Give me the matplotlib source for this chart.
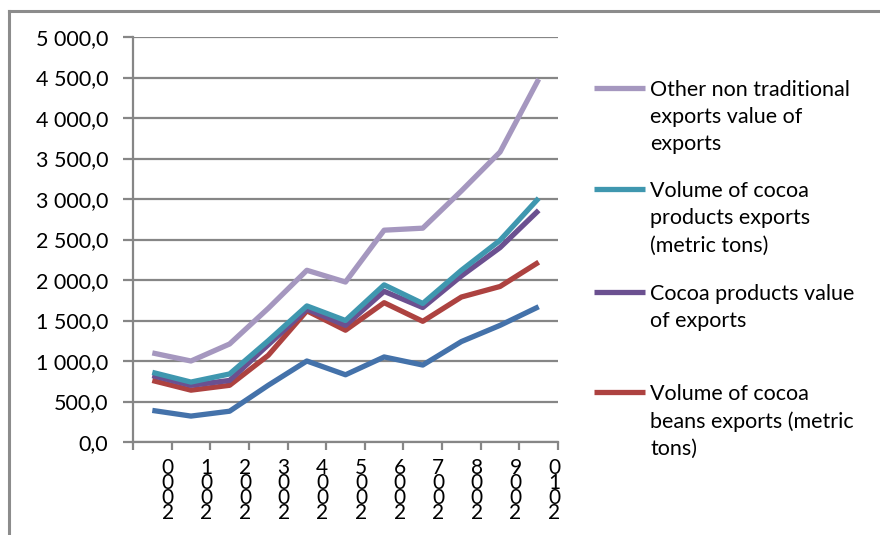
import numpy as np
import matplotlib
matplotlib.use("Agg")
import matplotlib.pyplot as plt
from matplotlib.lines import Line2D
from matplotlib.ticker import FuncFormatter

plt.rcParams['font.family'] = ['Lato', 'DejaVu Sans']

years = ['2000', '2001', '2002', '2003', '2004', '2005',
         '2006', '2007', '2008', '2009', '2010']

other_nontrad = [1100, 1000, 1210, 1650, 2120, 1975, 2615, 2640, 3100, 3580, 4480]
vol_products = [860, 740, 840, 1250, 1680, 1500, 1940, 1710, 2120, 2490, 3010]
val_products = [820, 700, 760, 1200, 1640, 1440, 1860, 1660, 2050, 2400, 2860]
vol_beans = [760, 640, 700, 1070, 1620, 1380, 1720, 1490, 1790, 1920, 2220]
val_beans = [390, 320, 380, 700, 1000, 830, 1050, 950, 1240, 1440, 1670]

labels = ['Other non traditional\nexports value of\nexports',
          'Volume of cocoa\nproducts exports\n(metric tons)',
          'Cocoa products value\nof exports',
          'Volume of cocoa\nbeans exports (metric\ntons)']

c_blue = '#4472aa'
c_red = '#ad4240'
c_purple = '#6b5090'
c_teal = '#3f97af'
c_lav = '#a597bf'
grid_c = '#868686'

W, H = 880, 535
fig = plt.figure(figsize=(W / 100, H / 100), dpi=100)
ax = fig.add_axes([133 / W, (H - 442) / H, (558 - 133) / W, (442 - 37) / H])

x = np.arange(len(years))
lw = 3.8
ax.plot(x, val_beans, color=c_blue, lw=lw, solid_capstyle='butt')
ax.plot(x, vol_beans, color=c_red, lw=lw, solid_capstyle='butt')
ax.plot(x, val_products, color=c_purple, lw=lw, solid_capstyle='butt')
ax.plot(x, vol_products, color=c_teal, lw=lw, solid_capstyle='butt')
ax.plot(x, other_nontrad, color=c_lav, lw=lw, solid_capstyle='butt')

ax.set_xlim(-0.5, len(years) - 0.5)
ax.set_ylim(0, 5000)
ax.set_yticks(np.arange(0, 5001, 500))
ax.yaxis.set_major_formatter(FuncFormatter(
    lambda v, p: f"{v:,.1f}".replace(',', ' ').replace('.', ',')))
ax.grid(axis='y', color=grid_c, lw=1.6)
ax.set_axisbelow(True)

ax.set_xticks(np.arange(-0.5, len(years), 1))
ax.set_xticklabels([])
for i, yr in enumerate(years):
    ax.text(i + 0.4, -0.04, '\n'.join(yr[::-1]), transform=ax.get_xaxis_transform(),
            ha='center', va='top', fontsize=15, linespacing=0.68)

for s in ['top', 'right']:
    ax.spines[s].set_visible(False)
for s in ['left', 'bottom']:
    ax.spines[s].set_color(grid_c)
    ax.spines[s].set_linewidth(1.6)
ax.tick_params(axis='y', length=7, width=1.6, color=grid_c, labelsize=15.5, pad=11)
ax.tick_params(axis='x', length=6, width=1.6, color=grid_c)

# legend drawn by hand, Excel style
leg_y = [88, 189, 292, 392]
leg_c = [c_lav, c_teal, c_purple, c_red]
for yy, cc, lab in zip(leg_y, leg_c, labels):
    fig.add_artist(Line2D([594 / W, 645 / W], [(H - yy) / H] * 2, color=cc, lw=lw,
                          solid_capstyle='butt'))
    fig.text(650 / W, (H - yy + 8) / H, lab, ha='left', va='top', fontsize=15.5,
             linespacing=1.45)

# chart frame
fig.add_artist(Line2D([9 / W, 1], [(H - 11) / H] * 2, color='#8c8c8c', lw=2.2))
fig.add_artist(Line2D([9 / W, 9 / W], [0, (H - 11) / H], color='#8c8c8c', lw=2.2))

fig.savefig('out.png', dpi=100)
